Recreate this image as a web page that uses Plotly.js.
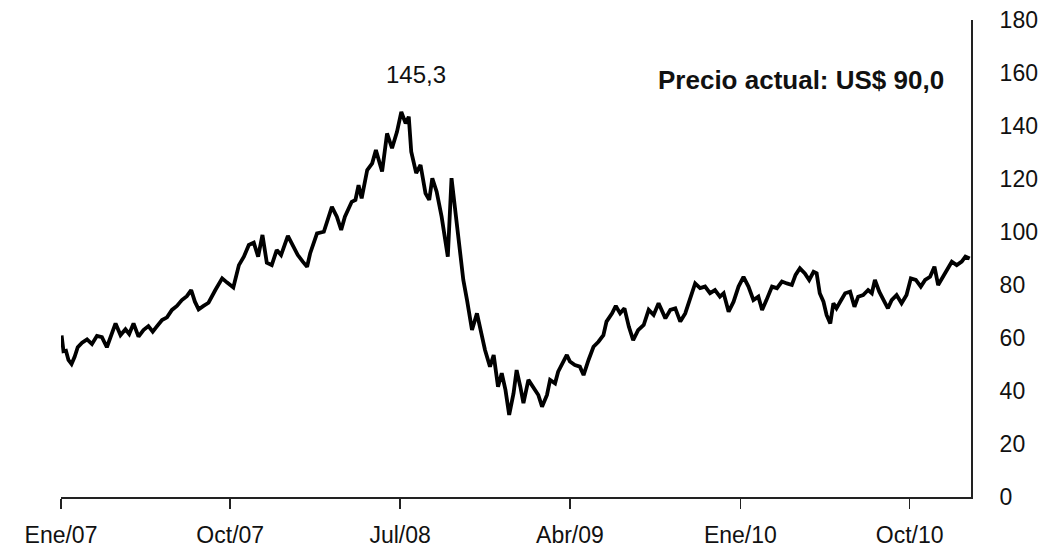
<!DOCTYPE html>
<html>
<head>
<meta charset="utf-8">
<script src="https://cdn.plot.ly/plotly-3.0.1.min.js"></script>
<style>
html,body{margin:0;padding:0;background:#fff;}
#chart{width:1057px;height:552px;}
</style>
</head>
<body>
<div id="chart"></div>
<script>
// Fechas (x) y precio en US$ (y)
const fechas = [
'2007-01-02','2007-01-05','2007-01-09','2007-01-13','2007-01-18','2007-01-23','2007-01-28','2007-02-04','2007-02-12','2007-02-20',
'2007-02-28','2007-03-08','2007-03-16','2007-03-23','2007-03-30','2007-04-07','2007-04-15','2007-04-21','2007-04-28','2007-05-06',
'2007-05-14','2007-05-22','2007-05-29','2007-06-05','2007-06-13','2007-06-21','2007-06-29','2007-07-07','2007-07-15','2007-07-23',
'2007-07-30','2007-08-05','2007-08-11','2007-08-19','2007-08-27','2007-09-07','2007-09-18','2007-09-26','2007-10-06','2007-10-15',
'2007-10-23','2007-10-31','2007-11-08','2007-11-15','2007-11-22','2007-11-29','2007-12-07','2007-12-15','2007-12-22','2008-01-02',
'2008-01-10','2008-01-18','2008-01-26','2008-02-02','2008-02-07','2008-02-18','2008-02-29','2008-03-07','2008-03-13','2008-03-21',
'2008-03-28','2008-04-03','2008-04-14','2008-04-20','2008-04-25','2008-04-30','2008-05-09','2008-05-17','2008-05-23','2008-06-02',
'2008-06-10','2008-06-18','2008-06-26','2008-07-03','2008-07-10','2008-07-15','2008-07-19','2008-07-27','2008-08-03','2008-08-11',
'2008-08-17','2008-08-22','2008-08-29','2008-09-06','2008-09-16','2008-09-22','2008-09-28','2008-10-06','2008-10-11','2008-10-17',
'2008-10-25','2008-11-02','2008-11-09','2008-11-15','2008-11-23','2008-11-29','2008-12-06','2008-12-12','2008-12-18','2008-12-24',
'2008-12-31','2009-01-05','2009-01-11','2009-01-16','2009-01-24','2009-02-01','2009-02-09','2009-02-15','2009-02-23','2009-02-28',
'2009-03-08','2009-03-13','2009-03-22','2009-03-27','2009-04-01','2009-04-09','2009-04-17','2009-04-23','2009-05-01','2009-05-09',
'2009-05-17','2009-05-25','2009-05-30','2009-06-08','2009-06-14','2009-06-21','2009-06-28','2009-07-05','2009-07-12','2009-07-20',
'2009-07-29','2009-08-06','2009-08-14','2009-08-22','2009-09-02','2009-09-10','2009-09-18','2009-09-26','2009-10-04','2009-10-12',
'2009-10-20','2009-10-28','2009-11-05','2009-11-13','2009-11-21','2009-11-29','2009-12-05','2009-12-13','2009-12-21','2009-12-29',
'2010-01-06','2010-01-14','2010-01-22','2010-01-30','2010-02-05','2010-02-12','2010-02-21','2010-03-01','2010-03-09','2010-03-17',
'2010-03-25','2010-03-31','2010-04-07','2010-04-15','2010-04-22','2010-04-29','2010-05-04','2010-05-09','2010-05-15','2010-05-20',
'2010-05-26','2010-05-31','2010-06-05','2010-06-11','2010-06-19','2010-06-27','2010-07-04','2010-07-10','2010-07-18','2010-07-26',
'2010-08-01','2010-08-06','2010-08-13','2010-08-20','2010-08-27','2010-09-02','2010-09-10','2010-09-18','2010-09-26','2010-10-03',
'2010-10-11','2010-10-19','2010-10-26','2010-11-03','2010-11-10','2010-11-16','2010-11-24','2010-12-01','2010-12-08','2010-12-16',
'2010-12-24','2010-12-30','2011-01-06'
];
const precio = [
61.0,55.0,55.2,51.7,50.2,52.9,56.5,58.2,59.5,57.7,
60.8,60.3,56.5,61.1,65.5,61.1,63.3,61.5,65.5,60.5,
63.0,64.5,62.4,64.5,66.8,67.8,70.6,72.1,74.3,75.8,
78.1,73.7,70.8,72.1,73.3,78.1,82.5,80.9,79.1,87.5,
90.7,95.1,96.0,90.7,98.9,88.4,87.5,93.2,91.3,98.5,
95.1,91.3,88.8,86.9,92.0,99.5,100.1,105.2,109.5,105.8,
100.8,105.8,111.4,112.1,117.7,112.7,123.4,125.9,130.9,122.8,
137.2,131.6,137.8,145.3,141.0,143.5,130.3,122.2,125.3,114.6,
112.1,120.3,115.2,105.8,90.7,120.3,108.3,89.4,81.9,74.3,
63.0,69.3,61.8,55.5,49.2,53.6,41.6,46.7,40.4,31.0,
39.1,47.9,41.6,35.4,44.2,41.0,38.5,34.1,38.5,44.2,
42.9,47.3,51.7,53.6,51.1,49.8,49.2,46.0,51.7,56.7,
58.6,61.1,66.2,69.3,72.1,69.3,71.2,64.3,59.2,63.0,
64.9,70.6,68.7,73.1,67.4,70.6,71.2,66.2,69.3,75.0,
80.6,78.8,79.4,76.9,78.1,75.6,76.9,69.9,73.7,79.4,
83.1,79.4,74.3,75.6,70.6,74.3,79.4,78.8,81.3,80.6,
80.0,83.8,86.3,84.4,81.9,85.0,84.4,76.9,73.7,68.7,
65.5,73.1,71.2,73.7,76.9,77.5,71.8,75.6,76.2,78.1,
76.9,81.9,77.5,74.3,71.2,74.3,76.2,73.1,76.2,82.5,
81.9,79.4,81.9,83.1,86.9,80.0,83.1,85.7,88.8,87.5,
88.8,90.7,90.0
];
const tickFechas = ['2007-01-01','2007-10-01','2008-07-01','2009-04-01','2010-01-01','2010-10-01'];
const tickEtiquetas = ['Ene/07','Oct/07','Jul/08','Abr/09','Ene/10','Oct/10'];
const yTicks = [0,20,40,60,80,100,120,140,160,180];

const iMax = precio.indexOf(Math.max(...precio));
const fmt = v => v.toFixed(1).replace('.', ',');
const actual = precio[precio.length-1];

const trace = {
  x: fechas, y: precio, type: 'scatter', mode: 'lines',
  line: {color: '#000000', width: 3.8}, hoverinfo: 'x+y'
};

const layout = {
  width: 1057, height: 552,
  margin: {l: 61, r: 86, t: 20, b: 55},
  paper_bgcolor: '#ffffff', plot_bgcolor: '#ffffff',
  showlegend: false,
  font: {family: 'Liberation Sans, Arial, sans-serif', color: '#111111', size: 23},
  xaxis: {
    type: 'date', range: ['2007-01-01', '2011-01-08'],
    tickvals: tickFechas, ticktext: tickEtiquetas,
    showgrid: false, zeroline: false,
    showline: true, linecolor: '#222222', linewidth: 2,
    ticks: 'outside', ticklen: 10, tickwidth: 1.5, tickcolor: '#222222',
    tickfont: {size: 23, color: '#111111'}, ticklabelstandoff: 6
  },
  yaxis: {
    side: 'right', range: [0, 180], tickvals: yTicks,
    showgrid: false, zeroline: false,
    showline: true, linecolor: '#222222', linewidth: 2,
    ticks: '', tickfont: {size: 23, color: '#111111'}, ticklabelstandoff: 22
  },
  annotations: [
    {x: '2008-07-27', y: 159.5, xref: 'x', yref: 'y', text: fmt(precio[iMax]),
     showarrow: false, font: {size: 24, color: '#111111'}},
    {x: 0.973, y: 157.5, xref: 'paper', yref: 'y', xanchor: 'right',
     text: '<b>Precio actual: US$ ' + fmt(actual) + '</b>',
     showarrow: false, font: {size: 26, color: '#111111'}}
  ]
};

Plotly.newPlot('chart', [trace], layout, {displayModeBar: false, staticPlot: true});
</script>
</body>
</html>
